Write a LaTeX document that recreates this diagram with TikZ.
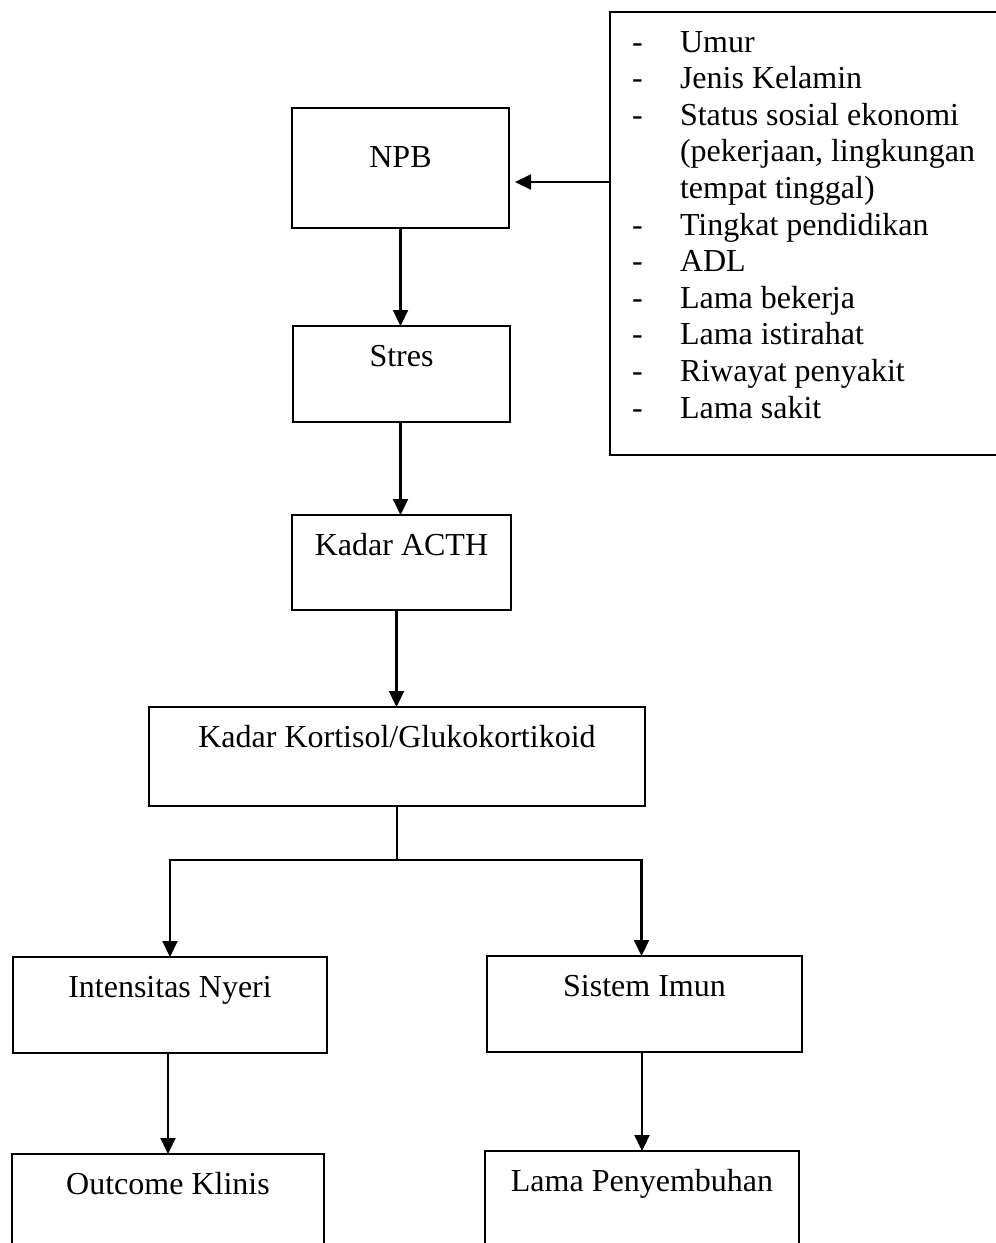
\documentclass[tikz,border=0pt]{standalone}
\usepackage{fontspec}
\setmainfont{Liberation Serif}
\usetikzlibrary{arrows.meta}
\begin{document}
\begin{tikzpicture}[x=1pt,y=-1pt,
  box/.style={draw, line width=2.4pt, rectangle, inner sep=0pt, outer sep=0pt},
  txt/.style={inner sep=0pt, outer sep=0pt, anchor=base, font=\fontsize{32}{36.6}\selectfont},
  itm/.style={inner sep=0pt, outer sep=0pt, anchor=base west, font=\fontsize{32}{36.6}\selectfont},
  conn/.style={line width=2.2pt, -{Triangle[length=16pt,width=15pt]}},
  plainline/.style={line width=2.2pt}]
\useasboundingbox (0,0) rectangle (996,1243);
\clip (0,0) rectangle (996,1243);
\fill[white] (0,0) rectangle (996,1243);

% boxes
\node[box, minimum width=217pt, minimum height=120pt] (npb) at (400.5,168) {};
\node[box, minimum width=217pt, minimum height=96pt] (stres) at (401.5,374) {};
\node[box, minimum width=219pt, minimum height=95pt] (acth) at (401.5,562.5) {};
\node[box, minimum width=496pt, minimum height=99pt] (kort) at (397,756.5) {};
\node[box, minimum width=314pt, minimum height=96pt] (inten) at (170,1005) {};
\node[box, minimum width=315pt, minimum height=96pt] (imun) at (644.5,1004) {};
\node[box, minimum width=312pt, minimum height=126pt] (outc) at (168,1217) {};
\node[box, minimum width=314pt, minimum height=129pt] (lama) at (642,1215.5) {};
\node[box, minimum width=400pt, minimum height=443pt] (fak) at (810,233.5) {};

% box texts
\node[txt] (npbt) at (400.5,167) {NPB};
\node[txt] (strest) at (401.5,366) {Stres};
\node[txt] (actht) at (401.5,555) {Kadar ACTH};
\node[txt] (kortt) at (397,747) {Kadar Kortisol/Glukokortikoid};
\node[txt] (intent) at (170,997) {Intensitas Nyeri};
\node[txt] (imunt) at (644.5,996) {Sistem Imun};
\node[txt] (outct) at (168,1194) {Outcome Klinis};
\node[txt] (lamat) at (642,1191) {Lama Penyembuhan};

% factor list
\node[itm] (d0) at (632,52) {-};
\node[itm] (i0) at (680,52) {Umur};
\node[itm] (d1) at (632,88.6) {-};
\node[itm] (i1) at (680,88.6) {Jenis Kelamin};
\node[itm] (d2) at (632,125.2) {-};
\node[itm] (i2) at (680,125.2) {Status sosial ekonomi};
\node[itm] (i3) at (680,161.8) {(pekerjaan, lingkungan};
\node[itm] (i4) at (680,198.4) {tempat tinggal)};
\node[itm] (d5) at (632,235) {-};
\node[itm] (i5) at (680,235) {Tingkat pendidikan};
\node[itm] (d6) at (632,271.6) {-};
\node[itm] (i6) at (680,271.6) {ADL};
\node[itm] (d7) at (632,308.2) {-};
\node[itm] (i7) at (680,308.2) {Lama bekerja};
\node[itm] (d8) at (632,344.8) {-};
\node[itm] (i8) at (680,344.8) {Lama istirahat};
\node[itm] (d9) at (632,381.4) {-};
\node[itm] (i9) at (680,381.4) {Riwayat penyakit};
\node[itm] (d10) at (632,418) {-};
\node[itm] (i10) at (680,418) {Lama sakit};

% connectors
\coordinate (fa) at (610,182);
\draw[conn, shorten >=6pt] (fa) -- (fa -| npb.east);
\draw[conn] (npb.south) -- (npb.south |- stres.north);
\draw[conn] ([xshift=-1pt]stres.south) -- ([xshift=-1pt]stres.south |- acth.north);
\draw[conn] ([xshift=-5pt]acth.south) -- ([xshift=-5pt]acth.south |- kort.north);
\coordinate (split) at (397,860);
\draw[plainline] (kort.south) -- (split);
\draw[conn] (split) -| (inten.north);
\draw[conn] (split) -| ([xshift=-3pt]imun.north);
\draw[conn] (outc.north |- inten.south) -- (outc.north);
\draw[conn] (lama.north |- imun.south) -- (lama.north);
\end{tikzpicture}
\end{document}
